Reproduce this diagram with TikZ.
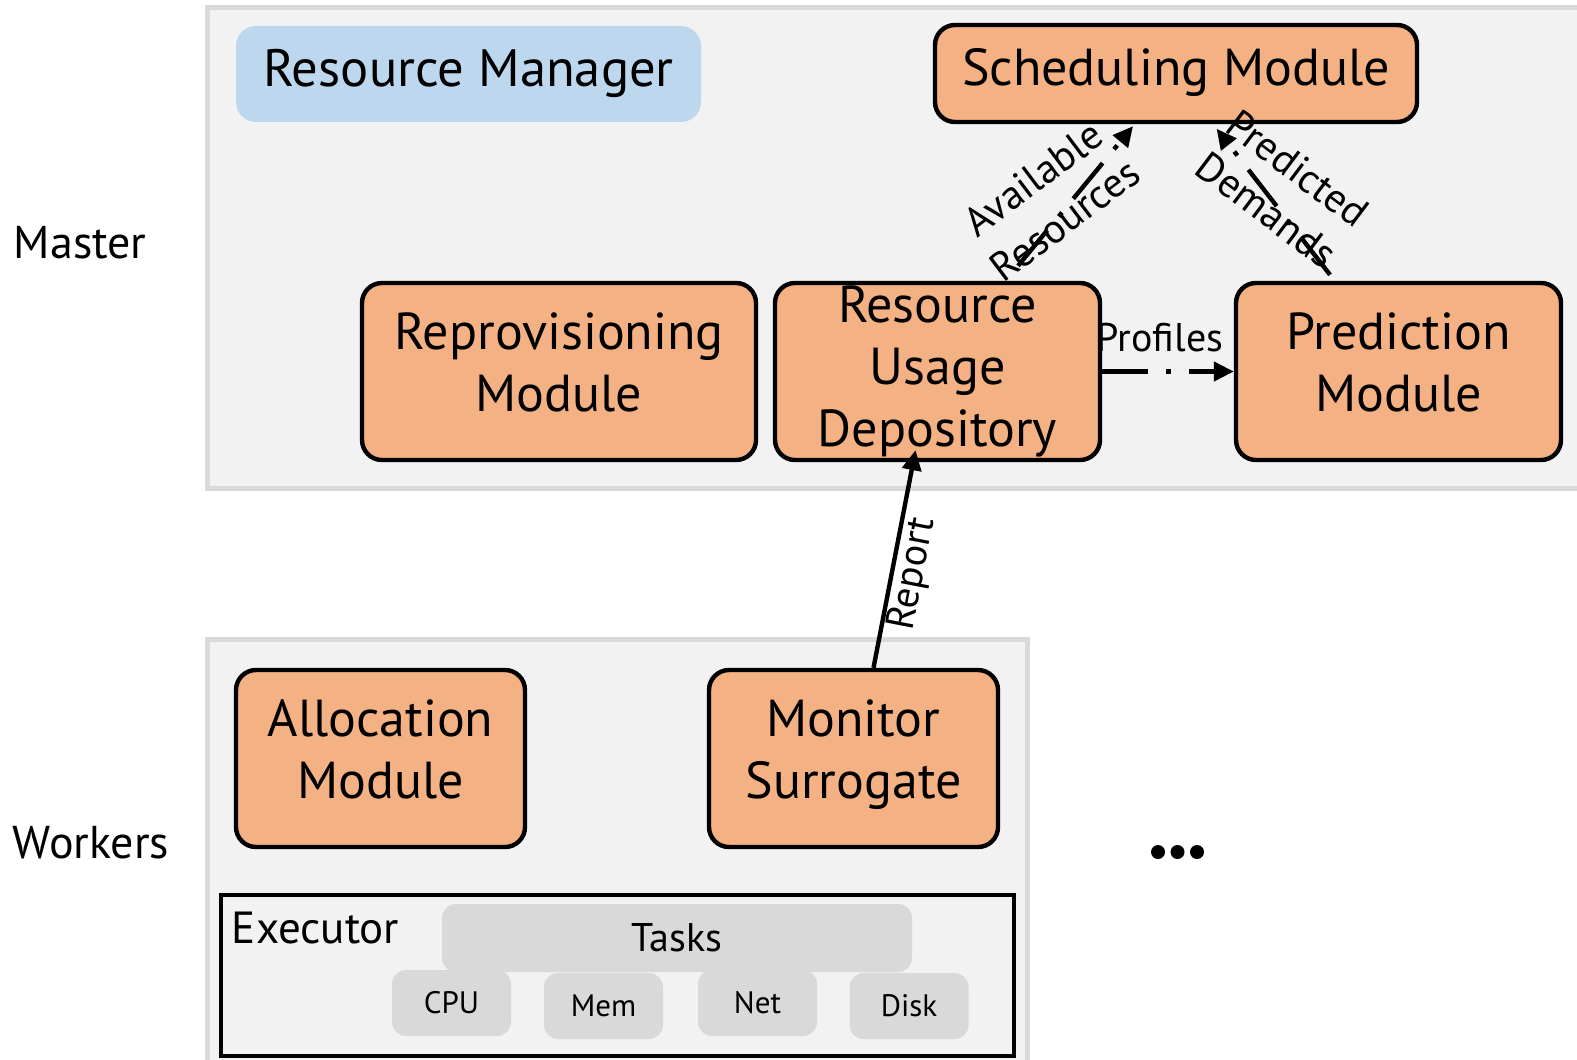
\documentclass[tikz,border=0pt]{standalone}
\usepackage{fontspec}
\setmainfont{PT Sans}
\usetikzlibrary{arrows.meta}
\definecolor{panelfill}{HTML}{F2F2F2}
\definecolor{panelline}{HTML}{D9D9D9}
\definecolor{modfill}{HTML}{F4B183}
\definecolor{rmfill}{HTML}{BDD7EE}
\definecolor{chipfill}{HTML}{D9D9D9}
\begin{document}
\begin{tikzpicture}[x=0.5pt,y=-0.5pt,
  panel/.style={fill=panelfill, draw=panelline, line width=2.5pt},
  module/.style={draw=black, fill=modfill, line width=2.2pt, rounded corners=10pt,
    inner sep=0pt, align=center, font=\fontsize{26}{31}\selectfont},
  % fixed line boxes so the text sits the same whatever its glyphs
  struts/.style={execute at begin node=\strut, execute at end node=\strut},
  bigbox/.style={module, minimum height=88.5pt},
  chip/.style={fill=chipfill, rounded corners=7pt, inner sep=0pt,
    minimum width=59.5pt, minimum height=33pt, font=\fontsize{15.5}{18}\selectfont},
  sidelabel/.style={anchor=base west, inner sep=0pt, font=\fontsize{23}{27}\selectfont},
  edgelabel/.style={inner sep=0pt, font=\fontsize{20}{24}\selectfont},
  difflabel/.style={inner sep=0pt, align=center, font=\fontsize{20.5}{26}\selectfont},
  conn/.style={line width=2.2pt, -{Triangle[length=10pt,width=9.5pt]}},
  dashdot/.style={dash pattern=on 23pt off 9pt on 2.5pt off 9pt},
  dot/.style={circle, fill=black, inner sep=0pt, minimum size=7pt}
]
\useasboundingbox (0,0) rectangle (1577,1059);
\begin{scope}
\clip (0,0) rectangle (1577,1059);

% container panels
\path[panel] (207.5,7.5) rectangle (1620,488);
\path[panel] (207.5,639) rectangle (1027,1090);

% side labels
\node[sidelabel] (lmaster) at (13.5,258.5) {Master};
\node[sidelabel] (lworkers) at (12.5,858.5) {Workers};

% master components
\node[fill=rmfill, rounded corners=10pt, inner sep=0pt, minimum width=232.5pt,
  minimum height=48pt, struts, font=\fontsize{26.3}{31}\selectfont] (rm) at (468.5,74) {Resource Manager};
\node[module, struts, minimum width=241pt, minimum height=48.5pt] (sched) at (1176,73.5) {Scheduling Module};
\node[bigbox, struts, minimum width=197pt] (repro) at (559,371.5) {Reprovisioning\\Module};
\node[bigbox, minimum width=162.5pt] (rud) at (937.5,371.5) {Resource\\Usage\\Depository};
\node[bigbox, struts, minimum width=162.5pt] (pred) at (1398.5,371.5) {Prediction\\Module};

% worker components
\node[bigbox, struts, minimum width=144.5pt] (alloc) at (380.5,758.5) {Allocation\\Module};
\node[bigbox, struts, minimum width=144.5pt] (mon) at (853.5,758.5) {Monitor\\Surrogate};

% executor with its tasks and resources
\node[draw=black, fill=panelfill, line width=2.4pt, inner sep=0pt,
  minimum width=396.5pt, minimum height=80.5pt] (exec) at (617.5,975.5) {};
\node[anchor=base west, inner sep=0pt, font=\fontsize{22.5}{26}\selectfont] (exectxt) at (231.5,943) {Executor};
\node[fill=chipfill, rounded corners=7pt, inner sep=0pt, minimum width=235pt,
  minimum height=34pt, font=\fontsize{20}{24}\selectfont] (tasks) at (677,938) {Tasks};
\node[chip] (cpu) at (451.5,1003) {CPU};
\node[chip] (mem) at (603.5,1006) {Mem};
\node[chip] (net) at (757.5,1003) {Net};
\node[chip] (disk) at (909,1006) {Disk};

% more workers
\node[dot] (d1) at (1158,852) {};
\node[dot] (d2) at (1177.5,852) {};
\node[dot] (d3) at (1197,852) {};

% connectors
\draw[conn] ([xshift=10pt]mon.north) -- ([xshift=-11pt,yshift=6pt]rud.south)
  node[sloped, pos=0.45, anchor=north, edgelabel, inner sep=0.5pt] (lreport) {Report};
\draw[conn, dashdot] (rud.east) -- (pred.west)
  node[pos=0.44, anchor=base, yshift=10pt, edgelabel] (lprof) {Profiles};
\draw[conn, dashdot] ([xshift=40.25pt,yshift=7.5pt]rud.north) -- ([xshift=-21.5pt,yshift=-1pt]sched.south);
\draw[conn, dashdot] ([xshift=-34.25pt,yshift=3pt]pred.north) -- ([xshift=20.3pt,yshift=-2.3pt]sched.south);
\node[difflabel, rotate=37] (lavail) at (1049,199) {Available\\Resources};
\node[difflabel, rotate=-37] (lpred) at (1282,189) {Predicted\\Demands};
\end{scope}
\end{tikzpicture}
\end{document}
